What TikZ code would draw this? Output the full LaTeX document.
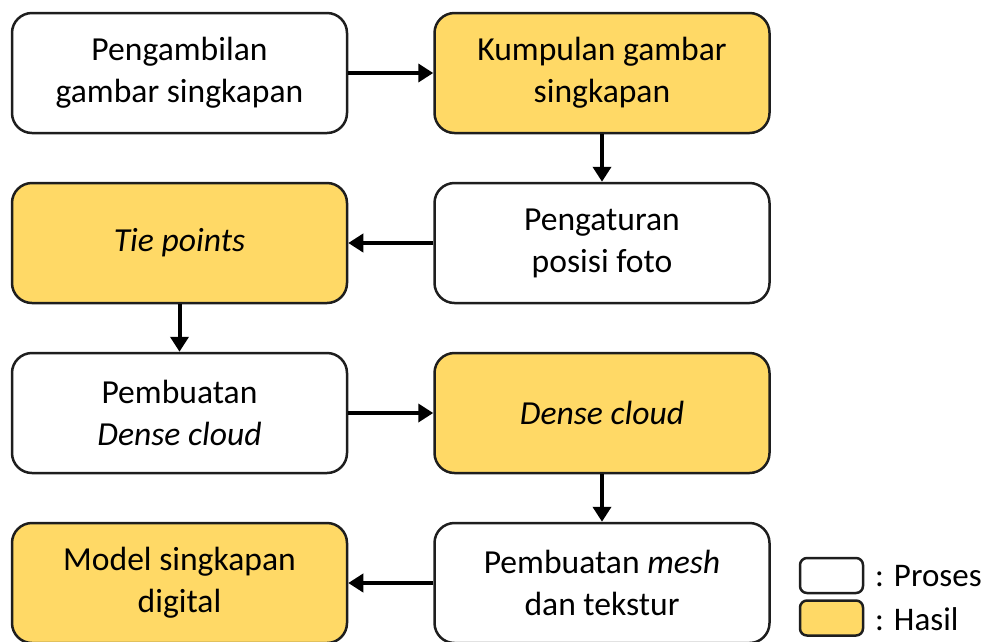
\documentclass[tikz,border=0pt]{standalone}
\usepackage{fontspec}
\setmainfont{Carlito}
\usetikzlibrary{arrows.meta}
\definecolor{hasil}{RGB}{255,217,102}
\definecolor{edge}{RGB}{30,30,30}
\tikzset{
  box/.style={draw=edge, line width=2.5pt, rounded corners=20pt, minimum width=335pt, minimum height=120pt, inner sep=0pt, align=center, font=\fontsize{33.6}{42}\selectfont},
  proses/.style={box, fill=white},
  hasilbox/.style={box, fill=hasil},
  flow/.style={line width=4pt, -{Triangle[length=15pt,width=18pt]}},
  legbox/.style={draw=edge, line width=2.5pt, rounded corners=7pt, minimum width=63pt, minimum height=35pt, inner sep=0pt},
  legtext/.style={anchor=west, inner sep=0pt, font=\fontsize{33}{38}\selectfont}
}
\begin{document}
\begin{tikzpicture}[x=1pt,y=-1pt]
\useasboundingbox (0,0) rectangle (987,641);
\node[proses] (a) at (179.5,73) {Pengambilan\\gambar singkapan};
\node[hasilbox] (b) at (602,73) {Kumpulan gambar\\singkapan};
\node[proses] (c) at (602,243) {Pengaturan\\posisi foto};
\node[hasilbox] (d) at (179.5,243) {\textit{Tie points}};
\node[proses] (e) at (179.5,413) {Pembuatan\\\textit{Dense cloud}};
\node[hasilbox] (f) at (602,413) {\textit{Dense cloud}};
\node[proses] (g) at (602,583) {Pembuatan \textit{mesh}\\dan tekstur};
\node[hasilbox] (h) at (179.5,583) {Model singkapan\\digital};
\draw[flow] (a) -- (b);
\draw[flow] (b) -- (c);
\draw[flow] (c) -- (d);
\draw[flow] (d) -- (e);
\draw[flow] (e) -- (f);
\draw[flow] (f) -- (g);
\draw[flow] (g) -- (h);
\node[legbox, fill=white] (lp) at (831.5,575.5) {};
\node[legbox, fill=hasil] (lh) at (831.5,618) {};
\node[legtext] (tp) at (875,576.5) {: Proses};
\node[legtext] (th) at (875,619) {: Hasil};
\end{tikzpicture}
\end{document}
